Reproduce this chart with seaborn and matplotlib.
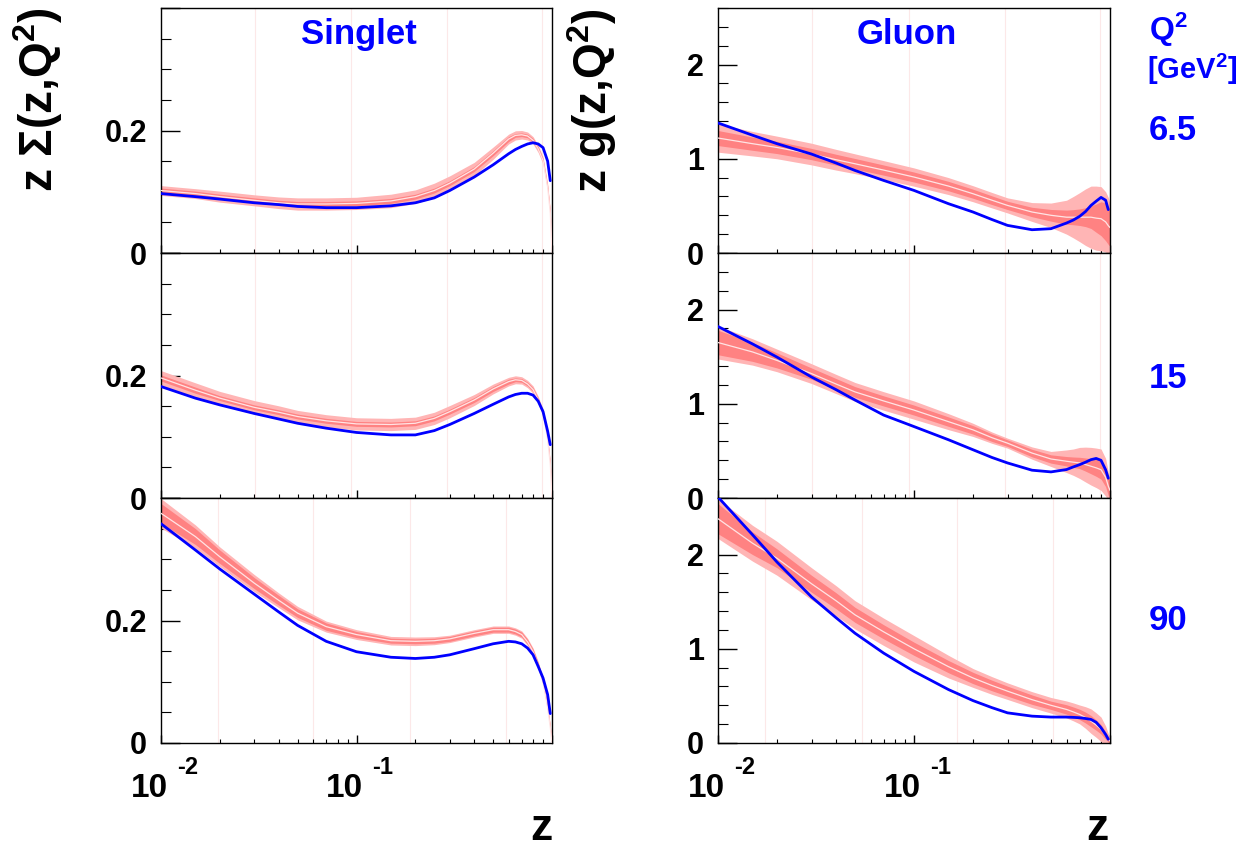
import numpy as np
import seaborn as sns
import matplotlib.pyplot as plt
from matplotlib.ticker import FixedLocator, MultipleLocator, LogLocator, NullFormatter

nan = np.nan

# momentum fraction grid
Z = [0.01, 0.015, 0.02, 0.03, 0.04, 0.05, 0.07, 0.1, 0.15, 0.2, 0.25, 0.3,
     0.4, 0.5, 0.6, 0.65, 0.7, 0.75, 0.8, 0.85, 0.9, 0.95, 0.98, 1.0]
Q2_LABELS = ['6.5', '15', '90']
X_LABEL_TICKS = [0.01, 0.1]
X_LABEL_EXP = ['-2', '-1']

# singlet: blue fit, band centre, inner / outer half widths
SING_FIT_6 = [0.097, 0.092, 0.088, 0.082, 0.079, 0.076, 0.074, 0.074, 0.077, 0.082, 0.090, 0.102, 0.124, 0.144, 0.162, 0.169, 0.174, 0.178, 0.180, 0.178, 0.172, 0.150, 0.118, nan]
SING_MID_6 = [0.102, 0.097, 0.092, 0.086, 0.082, 0.080, 0.080, 0.081, 0.085, 0.092, 0.102, 0.114, 0.137, 0.163, 0.186, 0.192, 0.193, 0.191, 0.184, 0.170, 0.151, 0.107, 0.065, 0.0]
SING_IN_6 = [0.004, 0.004, 0.004, 0.004, 0.004, 0.004, 0.004, 0.004, 0.004, 0.004, 0.004, 0.004, 0.004, 0.004, 0.004, 0.003, 0.003, 0.003, 0.003, 0.003, 0.003, 0.003, 0.003, 0.002]
SING_OUT_6 = [0.008, 0.008, 0.009, 0.009, 0.0095, 0.010, 0.010, 0.010, 0.011, 0.011, 0.012, 0.012, 0.011, 0.010, 0.008, 0.0075, 0.007, 0.0065, 0.006, 0.006, 0.006, 0.006, 0.005, 0.004]

SING_FIT_15 = [0.182, 0.163, 0.152, 0.138, 0.129, 0.122, 0.114, 0.107, 0.103, 0.103, 0.110, 0.120, 0.138, 0.153, 0.165, 0.169, 0.171, 0.171, 0.168, 0.158, 0.141, 0.109, 0.087, nan]
SING_MID_15 = [0.196, 0.176, 0.163, 0.148, 0.140, 0.133, 0.126, 0.121, 0.120, 0.122, 0.130, 0.141, 0.160, 0.178, 0.190, 0.193, 0.192, 0.186, 0.177, 0.160, 0.139, 0.095, 0.055, 0.0]
SING_IN_15 = [0.005, 0.005, 0.004, 0.004, 0.004, 0.004, 0.004, 0.004, 0.004, 0.004, 0.004, 0.004, 0.004, 0.004, 0.004, 0.003, 0.003, 0.003, 0.003, 0.003, 0.003, 0.003, 0.003, 0.002]
SING_OUT_15 = [0.012, 0.012, 0.011, 0.011, 0.0105, 0.010, 0.010, 0.010, 0.010, 0.010, 0.010, 0.010, 0.009, 0.008, 0.007, 0.0065, 0.006, 0.006, 0.006, 0.006, 0.006, 0.005, 0.005, 0.004]

SING_FIT_90 = [0.358, 0.315, 0.284, 0.243, 0.214, 0.192, 0.166, 0.149, 0.140, 0.138, 0.140, 0.144, 0.154, 0.162, 0.166, 0.165, 0.162, 0.155, 0.144, 0.125, 0.106, 0.079, 0.048, nan]
SING_MID_90 = [0.375, 0.337, 0.304, 0.261, 0.233, 0.212, 0.190, 0.177, 0.167, 0.166, 0.167, 0.170, 0.179, 0.185, 0.185, 0.182, 0.177, 0.165, 0.149, 0.127, 0.100, 0.057, 0.025, 0.0]
SING_IN_90 = [0.016, 0.013, 0.011, 0.009, 0.008, 0.007, 0.006, 0.005, 0.004, 0.004, 0.004, 0.004, 0.004, 0.004, 0.004, 0.004, 0.004, 0.004, 0.004, 0.004, 0.004, 0.003, 0.003, 0.002]
SING_OUT_90 = [0.024, 0.019, 0.016, 0.014, 0.012, 0.011, 0.009, 0.008, 0.007, 0.007, 0.0065, 0.006, 0.006, 0.006, 0.006, 0.006, 0.006, 0.006, 0.006, 0.006, 0.006, 0.005, 0.004, 0.003]

# gluon
GLU_FIT_6 = [1.38, 1.25, 1.16, 1.05, 0.955, 0.876, 0.77, 0.664, 0.523, 0.435, 0.355, 0.293, 0.247, 0.258, 0.318, 0.35, 0.389, 0.44, 0.505, 0.55, 0.59, 0.56, 0.46, nan]
GLU_MID_6 = [1.22, 1.16, 1.12, 1.05, 0.99, 0.947, 0.88, 0.806, 0.71, 0.629, 0.56, 0.505, 0.435, 0.40, 0.38, 0.38, 0.38, 0.38, 0.38, 0.37, 0.364, 0.33, 0.29, 0.27]
GLU_IN_6 = [0.08, 0.07, 0.065, 0.06, 0.058, 0.056, 0.054, 0.053, 0.05, 0.048, 0.046, 0.044, 0.05, 0.062, 0.075, 0.08, 0.088, 0.10, 0.12, 0.15, 0.18, 0.2, 0.2, 0.2]
GLU_OUT_6 = [0.15, 0.13, 0.12, 0.115, 0.11, 0.105, 0.10, 0.097, 0.09, 0.085, 0.082, 0.08, 0.1, 0.13, 0.18, 0.22, 0.26, 0.30, 0.33, 0.34, 0.34, 0.32, 0.3, 0.25]

GLU_FIT_15 = [1.82, 1.635, 1.495, 1.284, 1.15, 1.04, 0.88, 0.758, 0.618, 0.512, 0.43, 0.372, 0.295, 0.277, 0.302, 0.33, 0.354, 0.38, 0.407, 0.42, 0.40, 0.30, 0.21, nan]
GLU_MID_15 = [1.65, 1.55, 1.46, 1.32, 1.21, 1.126, 1.03, 0.933, 0.81, 0.723, 0.64, 0.582, 0.477, 0.414, 0.39, 0.38, 0.372, 0.355, 0.337, 0.32, 0.30, 0.22, 0.126, 0.08]
GLU_IN_15 = [0.13, 0.1, 0.08, 0.06, 0.058, 0.056, 0.054, 0.053, 0.05, 0.045, 0.04, 0.035, 0.04, 0.044, 0.05, 0.055, 0.06, 0.07, 0.08, 0.09, 0.1, 0.1, 0.1, 0.08]
GLU_OUT_15 = [0.175, 0.14, 0.12, 0.105, 0.102, 0.1, 0.098, 0.097, 0.085, 0.07, 0.06, 0.053, 0.065, 0.08, 0.12, 0.14, 0.165, 0.185, 0.2, 0.21, 0.22, 0.2, 0.15, 0.1]

GLU_FIT_90 = [2.61, 2.21, 1.92, 1.55, 1.33, 1.165, 0.954, 0.76, 0.567, 0.45, 0.375, 0.32, 0.285, 0.275, 0.275, 0.272, 0.268, 0.26, 0.25, 0.22, 0.162, 0.09, 0.04, nan]
GLU_MID_90 = [2.38, 2.12, 1.96, 1.69, 1.51, 1.36, 1.18, 1.0, 0.81, 0.69, 0.61, 0.55, 0.46, 0.40, 0.356, 0.33, 0.303, 0.27, 0.232, 0.19, 0.145, 0.08, 0.04, 0.02]
GLU_IN_90 = [0.16, 0.12, 0.1, 0.09, 0.085, 0.08, 0.075, 0.07, 0.065, 0.06, 0.056, 0.053, 0.05, 0.044, 0.05, 0.052, 0.055, 0.058, 0.06, 0.055, 0.05, 0.04, 0.03, 0.02]
GLU_OUT_90 = [0.21, 0.19, 0.18, 0.17, 0.16, 0.15, 0.145, 0.14, 0.12, 0.1, 0.094, 0.088, 0.085, 0.083, 0.09, 0.095, 0.1, 0.115, 0.13, 0.13, 0.13, 0.1, 0.06, 0.03]

# faint vertical guide lines (bin edges)
VLINES_LEFT = [[0.0302, 0.094, 0.29, 0.886], [0.0302, 0.094, 0.29, 0.886], [0.0196, 0.0598, 0.188, 0.58]]
VLINES_RIGHT = [[0.0303, 0.094, 0.29, 0.89], [0.0303, 0.094, 0.29, 0.89], [0.0174, 0.054, 0.166, 0.514]]

sns.set_style('ticks')
plt.rcParams['font.family'] = ['Liberation Sans', 'DejaVu Sans']
plt.rcParams['font.weight'] = 'bold'
plt.rcParams['text.color'] = 'black'
plt.rcParams['xtick.color'] = 'black'
plt.rcParams['ytick.color'] = 'black'
plt.rcParams['mathtext.fontset'] = 'custom'
plt.rcParams['mathtext.rm'] = 'Liberation Sans:bold'
plt.rcParams['mathtext.it'] = 'Liberation Sans:bold'
plt.rcParams['mathtext.bf'] = 'Liberation Sans:bold'
plt.rcParams['mathtext.sf'] = 'Liberation Sans:bold'

singlet = [(SING_FIT_6, SING_MID_6, SING_IN_6, SING_OUT_6),
           (SING_FIT_15, SING_MID_15, SING_IN_15, SING_OUT_15),
           (SING_FIT_90, SING_MID_90, SING_IN_90, SING_OUT_90)]
gluon = [(GLU_FIT_6, GLU_MID_6, GLU_IN_6, GLU_OUT_6),
         (GLU_FIT_15, GLU_MID_15, GLU_IN_15, GLU_OUT_15),
         (GLU_FIT_90, GLU_MID_90, GLU_IN_90, GLU_OUT_90)]

W, H = 1259, 850
fig = plt.figure(figsize=(W / 100, H / 100), dpi=100)

blue = '#0000ff'
ph = 245 / H
bottom0 = (H - 743) / H
cols = [(161 / W, 391 / W, singlet, VLINES_LEFT, 0.4, 0.2, 0.05, ['0', '0.2', '']),
        (718 / W, 392 / W, gluon, VLINES_RIGHT, 2.6, 1.0, 0.2, ['0', '1', '2'])]

px2pt = 0.72
z = np.array(Z)
for left, width, data, vlines, ytop, ymaj, ymin, ylabs in cols:
    for row in range(3):
        ax = fig.add_axes([left, bottom0 + (2 - row) * ph, width, ph])
        ax.set_xscale('log')
        fit, mid, e_in, e_out = [np.array(a) for a in data[row]]
        for v in vlines[row]:
            ax.axvline(v, color='#fce8e8', lw=0.8, zorder=0)
        ax.fill_between(z, mid - e_out, mid + e_out, color='#ffb5b5', lw=0, zorder=1)
        ax.fill_between(z, mid - e_in, mid + e_in, color='#ff8282', lw=0, zorder=2)
        sns.lineplot(x=z, y=mid, ax=ax, color='#ffe4e4', lw=0.9, zorder=3)
        sns.lineplot(x=z, y=fit, ax=ax, color=blue, lw=2.0, zorder=4)
        ax.set_xlim(0.01, 1.0)
        ax.set_ylim(0, ytop)
        ax.set_xlabel('')
        ax.set_ylabel('')

        ax.xaxis.set_major_locator(FixedLocator([0.01, 0.1, 1.0]))
        ax.xaxis.set_minor_locator(LogLocator(base=10, subs=np.arange(2, 10)))
        ax.xaxis.set_minor_formatter(NullFormatter())
        ax.set_xticklabels([])
        if row == 2:
            # ROOT-style "10" with a detached exponent
            for t, e in zip(X_LABEL_TICKS, X_LABEL_EXP):
                ax.annotate('10', xy=(t, 0), xycoords=('data', 'axes fraction'),
                            xytext=(-12 * px2pt, -54 * px2pt), textcoords='offset points',
                            ha='center', va='baseline', fontsize=24, annotation_clip=False)
                ax.annotate(e, xy=(t, 0), xycoords=('data', 'axes fraction'),
                            xytext=(16 * px2pt, -31 * px2pt), textcoords='offset points',
                            ha='left', va='baseline', fontsize=17, annotation_clip=False)
        ax.yaxis.set_major_locator(FixedLocator(np.arange(0, ytop + 1e-9, ymaj)))
        ax.yaxis.set_minor_locator(MultipleLocator(ymin))
        ax.set_yticklabels(ylabs[:len(ax.get_yticks())], fontsize=22)

        ax.tick_params(axis='x', which='major', direction='in', length=5.5, width=1)
        ax.tick_params(axis='x', which='minor', direction='in', length=3, width=0.8)
        ax.tick_params(axis='y', which='major', direction='in', length=14, width=1, pad=10)
        ax.tick_params(axis='y', which='minor', direction='in', length=7, width=0.8)
        for s in ax.spines.values():
            s.set_visible(True)
            s.set_color('black')
            s.set_linewidth(1.0)


def fx(px):
    return px / W


def fy(py):
    return 1 - py / H


# panel titles
fig.text(fx(359), fy(44), 'Singlet', color=blue, fontsize=25, ha='center', va='baseline')
fig.text(fx(907), fy(44), 'Gluon', color=blue, fontsize=25, ha='center', va='baseline')

# y axis titles
fig.text(fx(38), fy(8), r'z $\Sigma$(z,Q$^{2}$)', fontsize=33, rotation=90, ha='center', va='top')
fig.text(fx(592), fy(8), r'z g(z,Q$^{2}$)', fontsize=33, rotation=90, ha='center', va='top')

# x axis titles
fig.text(fx(552), fy(840), 'z', fontsize=32, ha='right', va='baseline')
fig.text(fx(1109), fy(840), 'z', fontsize=32, ha='right', va='baseline')

# Q2 labels on the right
fig.text(fx(1149), fy(40), r'Q$^{2}$', color=blue, fontsize=23, ha='left', va='baseline')
fig.text(fx(1147), fy(79), r'[GeV$^{2}$]', color=blue, fontsize=21, ha='left', va='baseline')
for q, py in zip(Q2_LABELS, [130, 378, 621]):
    fig.text(fx(1149), fy(py), q, color=blue, fontsize=25, ha='left', va='center')

fig.savefig('out.png', dpi=100)
